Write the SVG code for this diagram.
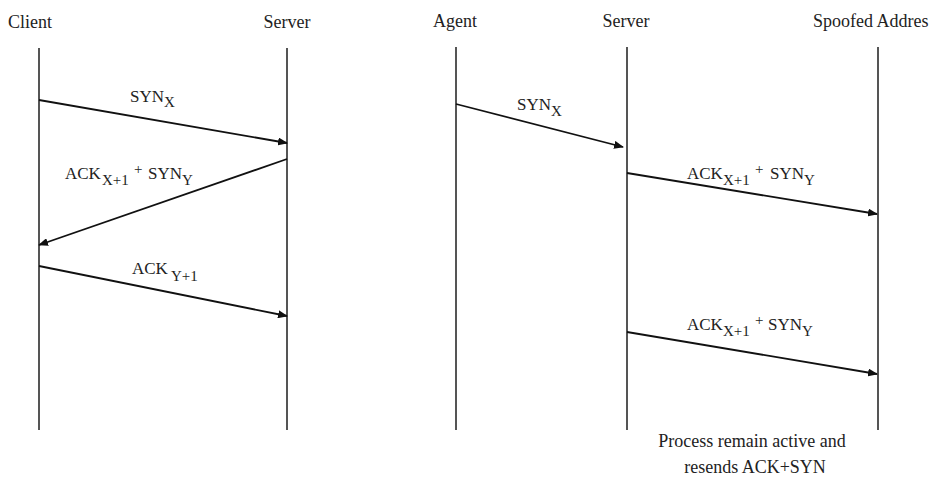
<svg xmlns="http://www.w3.org/2000/svg" width="936" height="484" viewBox="0 0 936 484">
<defs>
<style>
text{font-family:"Liberation Serif","DejaVu Serif",serif;fill:#222;}
.hd{font-size:18px;}
.lb{font-size:17px;}
.sb{font-size:15px;}
.life{stroke:#555;stroke-width:2;fill:none;}
.msg{stroke:#111;stroke-width:1.8;fill:none;marker-end:url(#ah);}
</style>
<marker id="ah" markerWidth="10" markerHeight="8" refX="9" refY="4" orient="auto" markerUnits="userSpaceOnUse">
<path d="M0,0 L10,4 L0,8 Z" fill="#111"/>
</marker>
</defs>
<rect width="936" height="484" fill="#fff"/>
<g id="client"><text class="hd" x="8" y="28">Client</text><line class="life" x1="39" y1="48" x2="39" y2="430"/></g>
<g id="server1"><text class="hd" x="287" y="28" text-anchor="middle">Server</text><line class="life" x1="287" y1="48" x2="287" y2="430"/></g>
<g id="agent"><text class="hd" x="433" y="27">Agent</text><line class="life" x1="456" y1="47" x2="456" y2="430"/></g>
<g id="server2"><text class="hd" x="626" y="27" text-anchor="middle">Server</text><line class="life" x1="627" y1="47" x2="627" y2="430"/></g>
<g id="spoofed"><text class="hd" x="813" y="27">Spoofed Addres</text><line class="life" x1="878" y1="47" x2="878" y2="430"/></g>
<g id="connectors">
<line class="msg" x1="39" y1="100" x2="287" y2="143"/>
<line class="msg" x1="287" y1="159" x2="39" y2="245"/>
<line class="msg" x1="39" y1="266" x2="287" y2="316"/>
<line class="msg" x1="456" y1="104" x2="623" y2="147"/>
<line class="msg" x1="627" y1="173" x2="877" y2="214"/>
<line class="msg" x1="627" y1="332" x2="877" y2="374"/>
</g>
<g id="labels">
<text class="lb" x="130" y="102">SYN<tspan class="sb" dy="5">X</tspan></text>
<text class="lb" x="65" y="179">ACK<tspan class="sb" x="102" dy="6">X+1</tspan><tspan class="sb" x="134" dy="-11">+</tspan><tspan x="148" dy="5">SYN</tspan><tspan class="sb" dy="6">Y</tspan></text>
<text class="lb" x="132" y="274">ACK<tspan class="sb" x="171" dy="7">Y+1</tspan></text>
<text class="lb" x="517" y="110">SYN<tspan class="sb" dy="6">X</tspan></text>
<text class="lb" x="687" y="179">ACK<tspan class="sb" x="723" dy="6">X+1</tspan><tspan class="sb" x="755" dy="-11">+</tspan><tspan x="770" dy="5">SYN</tspan><tspan class="sb" dy="6">Y</tspan></text>
<text class="lb" x="687" y="330">ACK<tspan class="sb" x="723" dy="6">X+1</tspan><tspan class="sb" x="755" dy="-11">+</tspan><tspan x="768" dy="5">SYN</tspan><tspan class="sb" dy="6">Y</tspan></text>
</g>
<g id="note">
<text class="hd" x="752" y="447" text-anchor="middle">Process remain active and</text>
<text class="hd" x="755" y="473" text-anchor="middle">resends ACK+SYN</text>
</g>
</svg>
